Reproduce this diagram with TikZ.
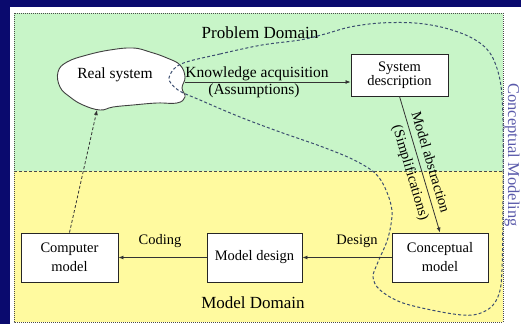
\documentclass[tikz,border=0pt]{standalone}
\usepackage{fontspec}
\setmainfont{Liberation Serif}
\usetikzlibrary{arrows.meta}
\definecolor{navy}{HTML}{0A0A6E}
\definecolor{probbg}{HTML}{C8F5C8}
\definecolor{modbg}{HTML}{FFFA9F}
\definecolor{loopcol}{HTML}{3C4E70}
\definecolor{cmtext}{HTML}{5A5AAA}
\definecolor{framecol}{HTML}{4A4A4A}
\begin{document}
\begin{tikzpicture}[x=1pt,y=-1pt,
  box/.style={draw=black!85, line width=0.9pt, fill=white, align=center,
    inner sep=0pt, font=\fontsize{14.5}{19}\selectfont},
  lbl/.style={font=\fontsize{14.5}{16}\selectfont, inner sep=0pt},
  domlbl/.style={font=\fontsize{17}{19}\selectfont, inner sep=0pt},
  flow/.style={draw=black!80, line width=0.8pt, -{Latex[length=5pt,width=4pt]}},
  backflow/.style={flow, dashed, dash pattern=on 3pt off 2pt},
  regionframe/.style={draw=framecol, line width=1pt, densely dotted},
  loopline/.style={draw=loopcol, line width=1pt, dash pattern=on 3pt off 2.2pt},
]
\useasboundingbox (0,0) rectangle (521,324);

% slide background and white panel
\fill[navy] (0,0) rectangle (521,324);
\fill[white] (10,7) rectangle (521,324);

% the two domains
\fill[probbg] (14,13) rectangle (503,171);
\fill[modbg] (14,171) rectangle (503,322);
\draw[regionframe] (14,13) rectangle (503,322);
\draw[regionframe, densely dashed] (14,171) -- (503,171);

\node[domlbl] (probdom) at (260,33) {Problem Domain};
\node[domlbl] (moddom) at (253,303) {Model Domain};

% the real system as a cloud
\draw[fill=white, draw=black!75, line width=0.9pt]
  plot[smooth cycle, tension=0.7] coordinates {
    (58,72) (67,62) (87,55) (110,50) (133,48) (150,52) (167,58) (180,65)
    (185,77) (182,88) (185,97) (177,103) (157,103) (133,105) (113,107)
    (100,110) (83,105) (70,97) (60,87)};
\node[lbl, font=\fontsize{15.5}{17}\selectfont] (real) at (115,75) {Real system};
\coordinate (realE) at (185,82);
\coordinate (realS) at (97,110);

% the conceptual modelling loop
\draw[loopline] plot[smooth cycle, tension=0.55] coordinates {
  (181,64) (220,54) (262,45) (300,40) (325,34) (350,27) (380,23) (415,23)
  (445,28) (472,38) (490,53) (500,80) (503,120) (503,200) (502,270) (499,294)
  (490,308) (473,315) (447,313) (403,303) (380,290) (373,277) (378,262)
  (388,238) (392,212) (386,190) (375,173) (352,159) (320,146) (280,132)
  (240,117) (200,100) (178,90) (169,78)};
\node[rotate=-90, text=cmtext, font=\fontsize{16.5}{18}\selectfont, inner sep=0pt]
  (cmlabel) at (512,155) {Conceptual Modeling};

% process boxes
\node[box, minimum width=97pt, minimum height=42pt, font=\fontsize{14.5}{13.5}\selectfont]
  (sysdesc) at (399.5,75) {System\\description};
\node[box, minimum width=96pt, minimum height=49pt] (concept) at (440,257.5) {Conceptual\\model};
\node[box, minimum width=95pt, minimum height=49pt] (mdesign) at (254.5,257.5) {Model design};
\node[box, minimum width=97pt, minimum height=49pt] (computer) at (69.5,257.5) {Computer\\model};

% connectors
\draw[flow] (realE) -- (sysdesc.west |- realE);
\node[lbl, font=\fontsize{15.5}{17}\selectfont] (kalbl) at (257,74) {Knowledge acquisition};
\node[lbl, font=\fontsize{15.5}{17}\selectfont] (aslbl) at (254,91) {(Assumptions)};

\draw[flow] (sysdesc.south) -- (concept.north);
\node[lbl, rotate=-73.5] (malbl) at (431,162) {Model abstraction};
\node[lbl, rotate=-73.5] (simlbl) at (410,173) {(Simplifications)};

\draw[flow] (concept.west) -- (mdesign.east);
\node[lbl] (dslbl) at (357,241) {Design};

\draw[flow] (mdesign.west) -- (computer.east);
\node[lbl] (cdlbl) at (160,241) {Coding};

\draw[backflow] (computer.north) -- (realS);
\end{tikzpicture}
\end{document}
